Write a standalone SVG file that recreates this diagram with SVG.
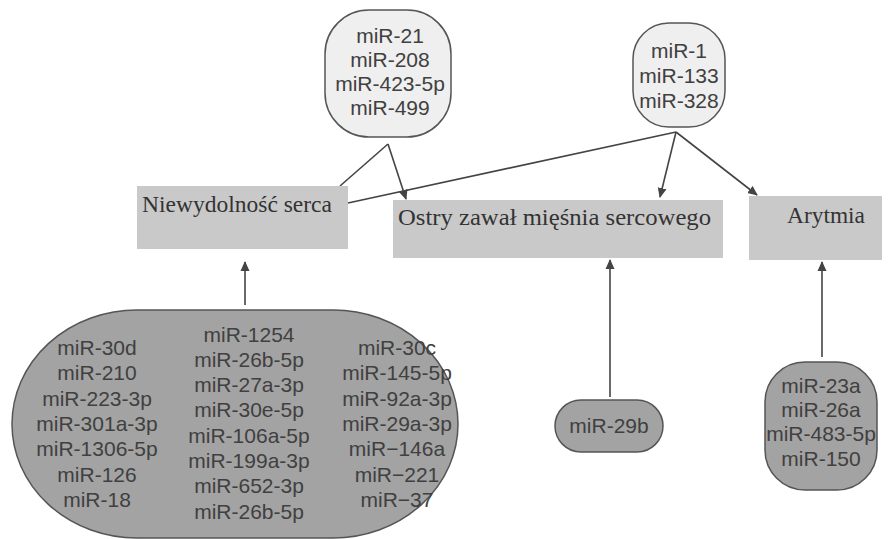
<svg xmlns="http://www.w3.org/2000/svg" width="893" height="539" viewBox="0 0 893 539">
<defs>
<style>
.box{fill:#c9c9c9;stroke:none}
.lt{fill:#efefef;stroke:#555;stroke-width:1.5}
.dk{fill:#a3a3a3;stroke:#555;stroke-width:1.5}
.sf{font-family:"Liberation Serif","Times New Roman",serif;font-size:23px;fill:#333}
.ss{font-family:"Liberation Sans",Arial,sans-serif;font-size:21px;fill:#404040;text-anchor:middle}
.cn{stroke:#444;stroke-width:1.6;fill:none}
</style>
<marker id="ah" viewBox="0 0 10 10" refX="9" refY="5" markerWidth="10" markerHeight="10" markerUnits="userSpaceOnUse" orient="auto">
<path d="M0,0.5 L10,5 L0,9.5 z" fill="#444"/>
</marker>
</defs>
<rect width="893" height="539" fill="#fff"/>

<g id="connectors">
<line class="cn" x1="388" y1="144" x2="340" y2="186"/>
<line class="cn" x1="388" y1="144" x2="406" y2="199" marker-end="url(#ah)"/>
<line class="cn" x1="676" y1="132" x2="348" y2="203"/>
<line class="cn" x1="676" y1="132" x2="660" y2="197" marker-end="url(#ah)"/>
<line class="cn" x1="676" y1="132" x2="757" y2="195" marker-end="url(#ah)"/>
<line class="cn" x1="245" y1="305" x2="245" y2="262" marker-end="url(#ah)"/>
<line class="cn" x1="610" y1="397" x2="610" y2="260" marker-end="url(#ah)"/>
<line class="cn" x1="822" y1="357" x2="822" y2="262" marker-end="url(#ah)"/>
</g>

<g id="n-niewydolnosc">
<rect class="box" x="137" y="186" width="211" height="63"/>
<text class="sf" x="142" y="212" textLength="190" lengthAdjust="spacingAndGlyphs">Niewydolność serca</text>
</g>
<g id="n-ostry">
<rect class="box" x="393" y="200" width="330" height="58"/>
<text class="sf" x="398" y="225" textLength="313" lengthAdjust="spacingAndGlyphs">Ostry zawał mięśnia sercowego</text>
</g>
<g id="n-arytmia">
<rect class="box" x="749" y="196" width="133" height="64"/>
<text class="sf" x="787" y="223" textLength="78" lengthAdjust="spacingAndGlyphs">Arytmia</text>
</g>

<g id="n-top1">
<rect class="lt" x="325" y="10" width="126" height="127" rx="44" ry="44"/>
<text class="ss" x="390" y="43">miR-21</text>
<text class="ss" x="390" y="67">miR-208</text>
<text class="ss" x="390" y="91">miR-423-5p</text>
<text class="ss" x="390" y="115">miR-499</text>
</g>
<g id="n-top2">
<rect class="lt" x="633" y="23" width="92" height="104" rx="36" ry="36"/>
<text class="ss" x="679" y="58">miR-1</text>
<text class="ss" x="679" y="83">miR-133</text>
<text class="ss" x="679" y="108">miR-328</text>
</g>

<g id="n-big">
<rect class="dk" x="12" y="310" width="446" height="228" rx="125" ry="114"/>
<text class="ss" x="97" y="355">miR-30d</text>
<text class="ss" x="97" y="380">miR-210</text>
<text class="ss" x="97" y="406">miR-223-3p</text>
<text class="ss" x="97" y="431">miR-301a-3p</text>
<text class="ss" x="97" y="456">miR-1306-5p</text>
<text class="ss" x="97" y="482">miR-126</text>
<text class="ss" x="97" y="507">miR-18</text>
<text class="ss" x="249" y="342">miR-1254</text>
<text class="ss" x="249" y="367">miR-26b-5p</text>
<text class="ss" x="249" y="392">miR-27a-3p</text>
<text class="ss" x="249" y="417">miR-30e-5p</text>
<text class="ss" x="249" y="443">miR-106a-5p</text>
<text class="ss" x="249" y="468">miR-199a-3p</text>
<text class="ss" x="249" y="493">miR-652-3p</text>
<text class="ss" x="249" y="519">miR-26b-5p</text>
<text class="ss" x="397" y="355">miR-30c</text>
<text class="ss" x="397" y="380">miR-145-5p</text>
<text class="ss" x="397" y="406">miR-92a-3p</text>
<text class="ss" x="397" y="431">miR-29a-3p</text>
<text class="ss" x="397" y="456">miR−146a</text>
<text class="ss" x="397" y="482">miR−221</text>
<text class="ss" x="397" y="507">miR−37</text>
</g>

<g id="n-29b">
<rect class="dk" x="555" y="400" width="108" height="52" rx="26" ry="26"/>
<text class="ss" x="609" y="433">miR-29b</text>
</g>

<g id="n-arytmia-src">
<rect class="dk" x="765" y="362" width="112" height="128" rx="40" ry="40"/>
<text class="ss" x="821" y="393">miR-23a</text>
<text class="ss" x="821" y="417">miR-26a</text>
<text class="ss" x="821" y="441">miR-483-5p</text>
<text class="ss" x="821" y="466">miR-150</text>
</g>
</svg>
